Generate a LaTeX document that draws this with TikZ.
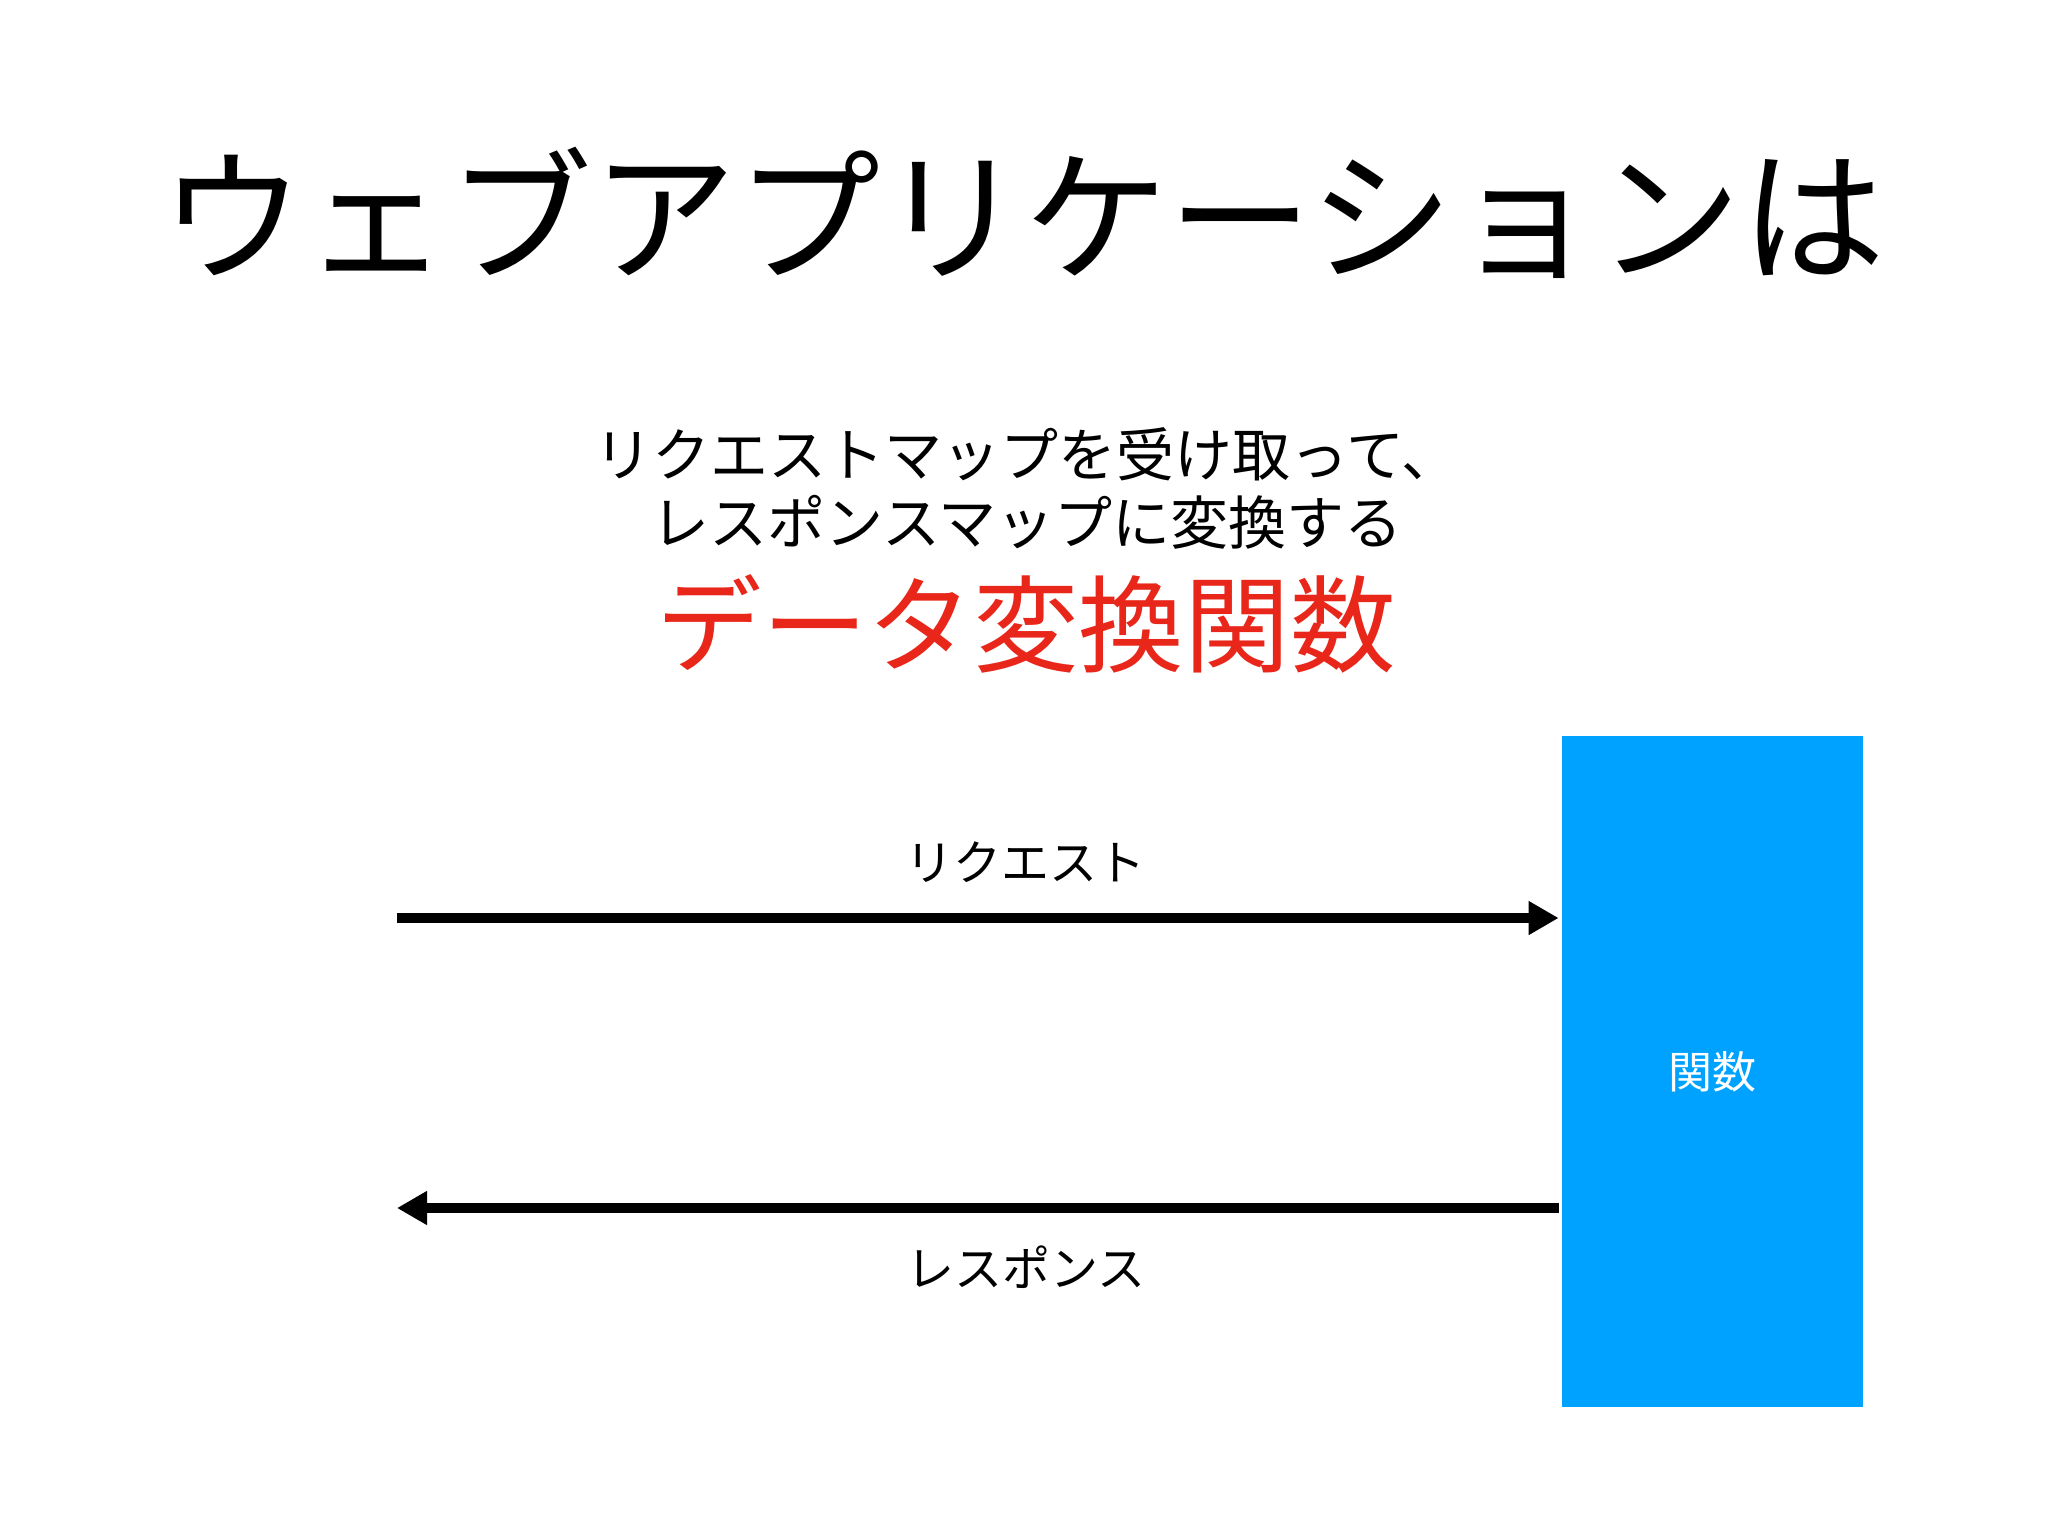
\documentclass[tikz,border=0pt]{standalone}
\usepackage{fontspec}
\setmainfont{Noto Sans CJK JP}
\usetikzlibrary{arrows.meta,positioning}
\definecolor{funcblue}{RGB}{0,162,255}
\definecolor{keyred}{RGB}{232,38,26}
\tikzset{
  flow/.style={line width=5pt,-{Triangle[length=15pt,width=16pt]}},
  lbl/.style={font=\fontsize{24}{24}\selectfont},
}
\begin{document}
\begin{tikzpicture}[x=0.5pt,y=-0.5pt,line join=round]
\useasboundingbox (0,0) rectangle (2048,1536);
\fill[white] (0,0) rectangle (2048,1536);
% heading
\node[font=\fontsize{72}{72}\selectfont] (title) at (1023,213) {ウェブアプリケーションは};
\node[font=\fontsize{29}{29}\selectfont,align=center] (lead) at (1027,488)
  {リクエストマップを受け取って、\\[5pt]レスポンスマップに変換する};
\node[font=\fontsize{52.8}{52.8}\selectfont,text=keyred] (key) at (1026,624) {データ変換関数};
% function box
\node[fill=funcblue,minimum width=150.5pt,minimum height=335.5pt,inner sep=0pt,
  text=white,font=\fontsize{22}{22}\selectfont] (func) at (1712.5,1071.5) {関数};
\coordinate (reqstart) at (397,918);
\coordinate (resend) at (397,1208);
\draw[flow,shorten >=1.5pt] (reqstart) -- (func.west |- reqstart);
\draw[flow] (func.west |- resend) ++(-3,0) -- (resend);
\node[lbl] (req) at (1025,862) {リクエスト};
\node[lbl] (res) at (1026,1267) {レスポンス};
\end{tikzpicture}
\end{document}
